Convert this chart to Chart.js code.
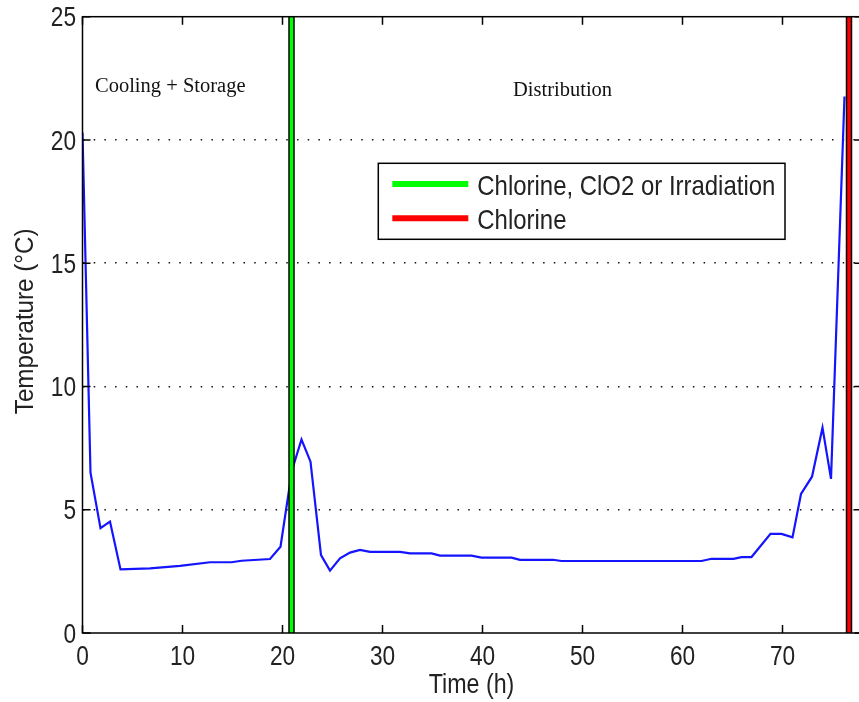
<!DOCTYPE html>
<html>
<head>
<meta charset="utf-8">
<script src="https://cdn.jsdelivr.net/npm/chart.js@4"></script>
<style>
  html, body { margin: 0; padding: 0; overflow: hidden; background: #fff; }
  #wrap { position: relative; width: 864px; height: 702px; }
</style>
</head>
<body>
<div id="wrap"><canvas id="chart"></canvas></div>
<script>
// Product temperature through cooling, storage and distribution
const timeH = [0, 0.8, 1.8, 2.75, 3.8, 6.75, 9.75, 12.75, 14.9, 15.9, 18.75, 19.8, 20.95, 21.9, 22.8,
  23.85, 24.75, 25.75, 26.75, 27.75, 28.75, 31.75, 32.75, 34.9, 35.75, 38.9, 39.9, 42.9, 43.75,
  47.05, 47.9, 61.9, 62.9, 65.1, 65.9, 66.9, 68.8, 69.9, 71.0, 71.85, 72.95, 74.0, 74.85, 76.2];
const tempC = [20.3, 6.5, 4.25, 4.52, 2.58, 2.62, 2.72, 2.87, 2.87, 2.93, 3.0, 3.5, 6.6, 7.85, 6.95,
  3.16, 2.53, 3.03, 3.26, 3.37, 3.29, 3.29, 3.23, 3.23, 3.14, 3.14, 3.06, 3.06, 2.97,
  2.97, 2.92, 2.92, 3.01, 3.01, 3.08, 3.08, 4.02, 4.02, 3.88, 5.64, 6.34, 8.33, 6.25, 21.76];

// Disinfection steps along the chain
const treatmentTimes = [20.9, 76.65];
const treatmentLabels = ['Chlorine, ClO2 or Irradiation', 'Chlorine'];
const treatmentColors = ['#00ff00', '#ff0000'];

// Axis ranges, ticks and titles
const xRange = [0, 78];
const yRange = [0, 25];
const xTicks = [0, 10, 20, 30, 40, 50, 60, 70];
const yTicks = [0, 5, 10, 15, 20, 25];
const xTitle = 'Time (h)';
const yTitle = 'Temperature (°C)';

// Phase names written across the top of the plot
const phaseLabels = ['Cooling + Storage', 'Distribution'];

const SANS = "'Liberation Sans', Arial, sans-serif";
const SERIF = "'Liberation Serif', 'Times New Roman', serif";
const TEXT = '#222';
const SQUEEZE = 0.84; // condensed look for the sans-serif labels

// Draws horizontally condensed text, optionally rotated about its anchor
function condensedText(ctx, str, x, y, opt) {
  ctx.save();
  ctx.translate(x, y);
  if (opt.rotate) ctx.rotate(opt.rotate);
  ctx.scale(opt.squeeze || SQUEEZE, 1);
  ctx.font = opt.font;
  ctx.fillStyle = opt.color || TEXT;
  ctx.textAlign = opt.align || 'left';
  ctx.textBaseline = 'alphabetic';
  ctx.fillText(str, 0, 0);
  ctx.restore();
}

const datasets = [{
  label: 'Temperature',
  data: timeH.map((t, i) => ({ x: t, y: tempC[i] })),
  borderColor: '#1414ff',
  borderWidth: 2.2,
  pointRadius: 0,
  tension: 0,
  fill: false,
  order: 3
}];
treatmentTimes.forEach((t, i) => {
  const pts = [{ x: t, y: yRange[0] }, { x: t, y: yRange[1] }];
  // dark edging under each coloured marker line
  datasets.push({ label: treatmentLabels[i], edge: true, data: pts, borderColor: '#000',
    borderWidth: 6.5, pointRadius: 0, order: 2 });
  datasets.push({ label: treatmentLabels[i], data: pts, borderColor: treatmentColors[i],
    borderWidth: 3.5, pointRadius: 0, order: 1 });
});

const framePlugin = {
  id: 'frame',
  afterDatasetsDraw(chart, args, opts) {
    const { ctx, chartArea: a, scales: { x, y } } = chart;
    ctx.save();
    // box around the plot with inward tick marks on all four sides
    ctx.strokeStyle = '#000';
    ctx.lineWidth = 1.5;
    ctx.strokeRect(a.left, a.top, a.right - a.left, a.bottom - a.top);
    const tl = 8;
    ctx.beginPath();
    xTicks.forEach(v => {
      const px = x.getPixelForValue(v);
      ctx.moveTo(px, a.bottom); ctx.lineTo(px, a.bottom - tl);
      ctx.moveTo(px, a.top); ctx.lineTo(px, a.top + tl);
    });
    yTicks.forEach(v => {
      const py = y.getPixelForValue(v);
      ctx.moveTo(a.left, py); ctx.lineTo(a.left + tl, py);
      ctx.moveTo(a.right, py); ctx.lineTo(a.right - tl, py);
    });
    ctx.stroke();
    ctx.restore();

    // tick labels and axis titles
    const tickFont = '27px ' + SANS;
    xTicks.forEach(v => condensedText(ctx, String(v), x.getPixelForValue(v), a.bottom + 32,
      { font: tickFont, align: 'center' }));
    yTicks.forEach(v => condensedText(ctx, String(v), a.left - 6.5, y.getPixelForValue(v) + 9.6,
      { font: tickFont, align: 'right' }));
    condensedText(ctx, xTitle, (a.left + a.right) / 2 - 1, a.bottom + 60,
      { font: '27px ' + SANS, align: 'center', squeeze: 0.86 });
    condensedText(ctx, yTitle, 32.5, (a.top + a.bottom) / 2 - 3.5,
      { font: '26px ' + SANS, align: 'center', rotate: -Math.PI / 2, squeeze: 0.93 });

    // phase names
    ctx.save();
    ctx.fillStyle = '#111';
    ctx.font = '20.5px ' + SERIF;
    ctx.textBaseline = 'alphabetic';
    ctx.textAlign = 'left';
    opts.phaseAnchors.forEach((p, i) => {
      ctx.fillText(phaseLabels[i], x.getPixelForValue(p[0]), y.getPixelForValue(p[1]));
    });

    // legend box
    const L = opts.legendBox;
    ctx.fillStyle = '#fff';
    ctx.fillRect(L.x, L.y, L.w, L.h);
    ctx.strokeStyle = '#000';
    ctx.lineWidth = 1.5;
    ctx.strokeRect(L.x, L.y, L.w, L.h);
    ctx.restore();
    const entries = chart.data.datasets.filter(d => d.label !== 'Temperature' && !d.edge);
    entries.forEach((d, i) => {
      const ly = L.y + L.first + i * L.step;
      ctx.save();
      ctx.strokeStyle = d.borderColor;
      ctx.lineWidth = 6;
      ctx.beginPath();
      ctx.moveTo(L.x + 14, ly);
      ctx.lineTo(L.x + 90, ly);
      ctx.stroke();
      ctx.restore();
      condensedText(ctx, d.label, L.x + 99, ly + 10.8, { font: '28px ' + SANS, squeeze: 0.855 });
    });
  }
};

new Chart(document.getElementById('chart'), {
  type: 'line',
  data: { datasets },
  options: {
    responsive: true,
    maintainAspectRatio: false,
    devicePixelRatio: 1,
    animation: false,
    layout: { padding: { top: 16.7, right: 1.5, left: 0, bottom: 0 } },
    plugins: {
      legend: { display: false },
      tooltip: { enabled: false },
      frame: {
        phaseAnchors: [[1.25, 21.95], [43.05, 21.8]],
        legendBox: { x: 378.3, y: 163.3, w: 406.7, h: 76, first: 20.7, step: 34.3 }
      }
    },
    scales: {
      x: {
        type: 'linear',
        min: xRange[0], max: xRange[1],
        afterBuildTicks: s => { s.ticks = xTicks.map(v => ({ value: v })); },
        afterFit: s => { s.height = 69; },
        grid: { display: false, drawTicks: false },
        border: { display: false },
        ticks: { display: false },
        title: { display: false }
      },
      y: {
        type: 'linear',
        min: yRange[0], max: yRange[1],
        afterBuildTicks: s => { s.ticks = yTicks.map(v => ({ value: v })); },
        afterFit: s => { s.width = 82.5; },
        grid: {
          drawTicks: false,
          lineWidth: 1.5,
          color: c => (c.tick && (c.tick.value === yRange[0] || c.tick.value === yRange[1])) ? 'rgba(0,0,0,0)' : '#111'
        },
        border: { display: false, dash: [1.5, 9.2] },
        ticks: { display: false },
        title: { display: false }
      }
    }
  },
  plugins: [framePlugin]
});
</script>
</body>
</html>
